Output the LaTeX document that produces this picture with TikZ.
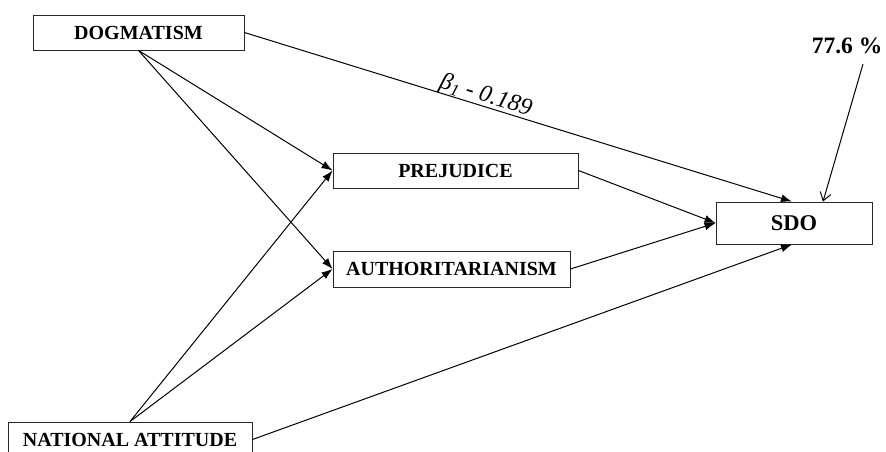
\documentclass[tikz,border=0pt]{standalone}
\usepackage{fontspec}
\setmainfont{Liberation Serif}
\usetikzlibrary{arrows.meta}
\begin{document}
\begin{tikzpicture}[x=1pt,y=-1pt,
  box/.style={draw=black!85, line width=0.9pt, fill=white, inner sep=0pt, font=\fontsize{20}{24}\selectfont\bfseries},
  conn/.style={line width=1pt, -{Latex[length=11pt,width=8pt]}},
  openarr/.style={line width=1pt, -{Straight Barb[length=8pt,width=11pt,line width=1pt]}}]
\clip (0,0) rectangle (886,451);
\fill[white] (0,0) rectangle (886,451);
\node[box, minimum width=211pt, minimum height=35pt] (dog) at (138.5,32.5) {DOGMATISM};
\node[box, minimum width=245pt, minimum height=35pt] (prej) at (455.5,170.5) {PREJUDICE};
\node[box, minimum width=237pt, minimum height=36pt] (auth) at (451.5,269) {AUTHORITARIANISM};
\node[box, minimum width=156pt, minimum height=42pt, font=\fontsize{22.5}{26}\selectfont\bfseries] (sdo) at (794,223) {SDO};
\node[box, minimum width=244pt, minimum height=35pt] (nat) at (130,439.5) {NATIONAL ATTITUDE};
\node[inner sep=0pt, anchor=base, font=\fontsize{23.5}{26}\selectfont\bfseries] (pct) at (847,53) {77.6 \%};
\coordinate (pctfoot) at (863,64);

\draw[conn] (dog.east) -- node[sloped, pos=0.435, anchor=south, inner sep=0pt, yshift=-1pt, font=\fontsize{24}{26}\selectfont\itshape] (beta) {β\textsubscript{1} - 0.189} ([xshift=-2pt]sdo.north);
\draw[conn] (dog.south) -- (prej.west);
\draw[conn] (dog.south) -- (auth.west);
\draw[conn] (nat.north) -- (prej.west);
\draw[conn] (nat.north) -- (auth.west);
\draw[conn] (nat.east) -- ([xshift=-2pt]sdo.south);
\draw[conn] (prej.east) -- (sdo.west);
\draw[conn] (auth.east) -- (sdo.west);
\draw[openarr] (pctfoot) -- ([xshift=29pt]sdo.north);
\end{tikzpicture}
\end{document}
